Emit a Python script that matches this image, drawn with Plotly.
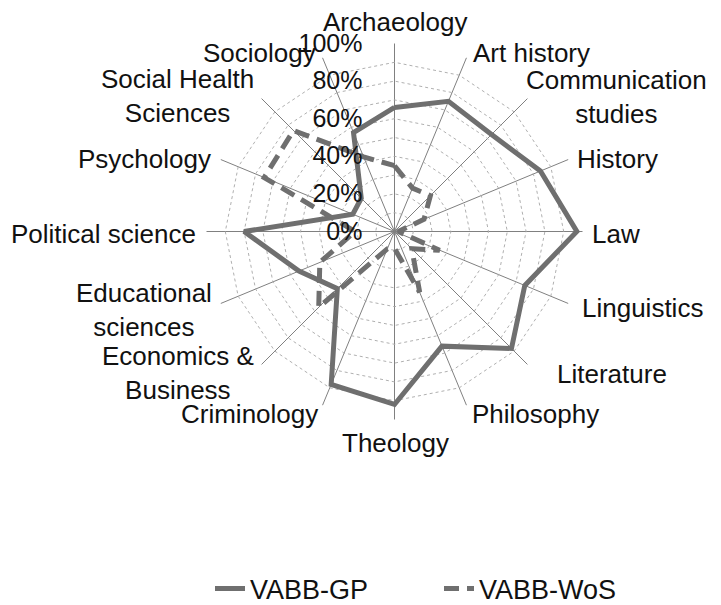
import plotly.graph_objects as go

categories = ["Archaeology", "Art history", "Communication<br>studies", "History", "Law",
              "Linguistics", "Literature", "Philosophy", "Theology", "Criminology",
              "Economics &<br>Business", "Educational<br>sciences", "Political science",
              "Psychology", "Social Health<br>Sciences", "Sociology"]
gp_values = [0.66, 0.75, 0.73, 0.84, 0.97, 0.75, 0.88, 0.66, 0.92, 0.88,
             0.43, 0.55, 0.80, 0.24, 0.25, 0.57]
wos_values = [0.35, 0.25, 0.27, 0.17, 0.02, 0.26, 0.13, 0.35, 0.09, 0.10,
              0.57, 0.43, 0.21, 0.75, 0.76, 0.43]
radial_ticks = [0.0, 0.1, 0.2, 0.3, 0.4, 0.5, 0.6, 0.7, 0.8, 0.9, 1.0]
radial_labels = ["0%", "", "20%", "", "40%", "", "60%", "", "80%", "", "100%"]

# category label placement (page pixels): x, y, xanchor
label_pos = [(395, 22, "center"), (471, 53, "left"), (616, 97, "center"), (575, 159, "left"),
             (590, 234, "left"), (580, 308, "left"), (555, 374, "left"), (470, 414, "left"),
             (395, 443, "center"), (320, 414, "right"), (178, 373, "center"), (144, 310, "center"),
             (198, 234, "right"), (213, 159, "right"), (177, 96, "center"), (318, 53, "right")]

line_color = "#6f6f6f"
font = dict(family="Liberation Sans, Arial, sans-serif", size=26, color="#111111")
pad = "\u00a0" * 4

fig = go.Figure()
fig.add_trace(go.Scatterpolar(
    r=gp_values + gp_values[:1], theta=categories + categories[:1],
    mode="lines", name="VABB-GP",
    line=dict(color=line_color, width=5)))
fig.add_trace(go.Scatterpolar(
    r=wos_values + wos_values[:1], theta=categories + categories[:1],
    mode="lines", name="VABB-WoS",
    line=dict(color=line_color, width=5, dash="15px,8px")))

W, H = 721, 605
cx, cy, R = 394.5, 231.5, 188

annotations = []
for text, (px, py, xa) in zip(categories, label_pos):
    annotations.append(dict(
        text=text, x=px / W, y=1 - py / H, xref="paper", yref="paper",
        xanchor=xa, yanchor="middle", align="center", showarrow=False, font=font))

fig.update_layout(
    width=W, height=H,
    margin=dict(l=0, r=0, t=0, b=0, autoexpand=False),
    paper_bgcolor="white", plot_bgcolor="white",
    font=font,
    annotations=annotations,
    polar=dict(
        domain=dict(x=[(cx - R) / W, (cx + R) / W], y=[1 - (cy + R) / H, 1 - (cy - R) / H]),
        bgcolor="white",
        gridshape="linear",
        angularaxis=dict(
            direction="clockwise", rotation=90, type="category",
            categoryarray=categories,
            showline=False,
            gridcolor="#808080", gridwidth=1,
            ticks="", showticklabels=False,
        ),
        radialaxis=dict(
            range=[0, 1], angle=90, tickangle=90,
            tickvals=radial_ticks, ticktext=[t + pad if t else t for t in radial_labels],
            showline=False, ticks="",
            gridcolor="#b0b0b0", gridwidth=1, griddash="dot",
            tickfont=dict(family=font["family"], size=25, color="#111111"),
            side="counterclockwise",
        ),
    ),
    legend=dict(orientation="h", x=210 / W, xanchor="left",
                y=1 - 589 / H, yanchor="middle",
                font=dict(family=font["family"], size=27, color="#111111"),
                entrywidth=184),
)
fig.write_html("out.html", post_script="document.body.style.margin='0px';",
               config={"displayModeBar": False})
